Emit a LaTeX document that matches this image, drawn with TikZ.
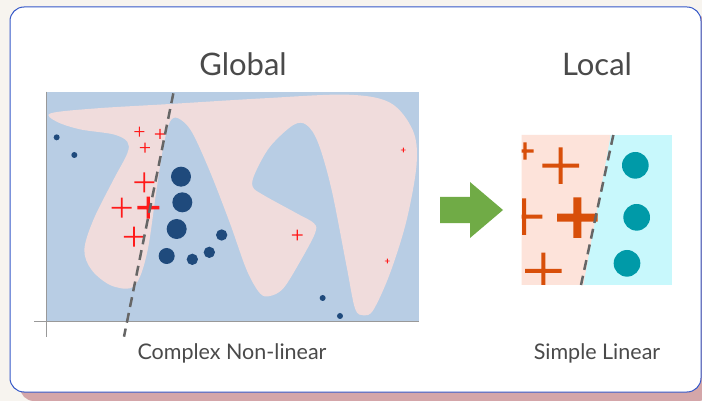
\documentclass[tikz,border=0pt]{standalone}
\usepackage{fontspec}
\setmainfont{Lato}
\definecolor{bgc}{HTML}{F7F4EF}
\definecolor{shadowc}{HTML}{D4A6A9}
\definecolor{borderc}{HTML}{3558C8}
\definecolor{plotblue}{HTML}{B8CDE4}
\definecolor{blobpink}{HTML}{F0DCDC}
\definecolor{dotblue}{HTML}{1F4A7C}
\definecolor{plusred}{RGB}{255,26,26}
\definecolor{dashgray}{HTML}{666666}
\definecolor{txtgray}{HTML}{4A4A4A}
\definecolor{arrowgreen}{HTML}{70AB46}
\definecolor{locpink}{HTML}{FDE3DA}
\definecolor{loccyan}{HTML}{C8F8FC}
\definecolor{orangec}{HTML}{D84F0A}
\definecolor{tealc}{HTML}{009AA8}
\tikzset{
  title/.style={font=\fontsize{31}{33}\selectfont, text=txtgray, inner sep=0pt},
  caption/.style={font=\fontsize{21.5}{23}\selectfont, text=txtgray, inner sep=0pt},
  sepline/.style={draw=dashgray, line width=2.5pt, dash pattern=on 10pt off 6pt},
  axisline/.style={draw=gray!80, line width=1pt},
}
% color, x, y, half length, half thickness
\newcommand\plusfill[5]{%
  \fill[#1] (#2-#4,#3-#5) rectangle (#2+#4,#3+#5) (#2-#5,#3-#4) rectangle (#2+#5,#3+#4);}
\begin{document}
\begin{tikzpicture}[x=1pt,y=-1pt]
\useasboundingbox (0,0) rectangle (702,401);
\fill[bgc] (0,0) rectangle (702,401);
% shadow and card
\fill[shadowc, rounded corners=14pt] (20,16) rectangle (712,401);
\filldraw[fill=white, draw=borderc, line width=1pt, rounded corners=14pt] (10,7) rectangle (701,392);

% titles
\node[title] (global) at (243,64) {Global};
\node[title] (local) at (597,64) {Local};

% global plot
\begin{scope}[shift={(30,80)}, scale=1/3]
  \fill[plotblue] (50,35) rectangle (1168,725);
  \fill[blobpink] plot[smooth cycle, tension=0.55] coordinates {
    (62,100) (200,85) (420,72) (700,55) (950,44) (1080,68) (1148,150) (1160,250)
    (1130,420) (1080,580) (1030,690) (1000,706) (975,685) (950,560) (905,330)
    (865,190) (830,135) (790,135) (720,200) (675,280) (668,320) (700,345)
    (800,400) (852,430) (855,460) (810,545) (760,625) (720,648) (690,640)
    (650,570) (600,430) (540,275) (485,155) (445,115) (420,125) (400,200)
    (378,340) (355,500) (330,590) (300,625) (240,615) (185,570) (163,510)
    (190,420) (250,300) (292,220) (292,185) (250,163) (150,148) (80,125)};
  % axes
  \draw[axisline] (12,725) -- (1168,725);
  \draw[axisline] (50,35) -- (50,770);
  % dots
  \fill[dotblue] (80,172) circle (9) (133,225) circle (9)
    (453,290) circle (30) (457,367) circle (30) (440,447) circle (30)
    (410,528) circle (24) (487,538) circle (17) (538,517) circle (17)
    (575,465) circle (17) (878,654) circle (9) (930,708) circle (9);
  % crosses
  \plusfill{plusred}{328}{155}{15}{1.7}
  \plusfill{plusred}{390}{162}{15}{1.7}
  \plusfill{plusred}{345}{203}{15}{1.7}
  \plusfill{plusred}{343}{307}{30}{2.6}
  \plusfill{plusred}{275}{383}{30}{2.6}
  \plusfill{plusred}{355}{383}{33}{5}
  \plusfill{plusred}{312}{470}{30}{2.6}
  \plusfill{plusred}{802}{465}{16}{1.8}
  \plusfill{plusred}{1120}{210}{7}{1.3}
  \plusfill{plusred}{1072}{543}{7}{1.3}
  % separating line
  \coordinate (gtop) at (430,40);
  \coordinate (gbot) at (282,770);
\end{scope}
\draw[sepline] (gtop) -- (gbot);

% arrow
\fill[arrowgreen] (440,197) -- (470,197) -- (470,182) -- (503,210) -- (470,238) -- (470,223) -- (440,223) -- cycle;

% local plot
\begin{scope}[shift={(500,120)}, scale=1/3]
  \fill[loccyan] (65,45) rectangle (517,495);
  \fill[locpink] (65,45) -- (332,45) -- (250,495) -- (65,495) -- cycle;
  \begin{scope}
    \clip (65,45) rectangle (517,495);
    \plusfill{orangec}{75}{93}{26}{5}
    \plusfill{orangec}{182}{137}{55}{6}
    \plusfill{orangec}{72}{290}{55}{6}
    \plusfill{orangec}{232}{293}{61}{12}
    \plusfill{orangec}{130}{453}{55}{6}
  \end{scope}
  \fill[tealc] (406,136) circle (40) (410,292) circle (40) (381,430) circle (40);
  \coordinate (ltop) at (340,45);
  \coordinate (lbot) at (243,495);
\end{scope}
\draw[sepline] (ltop) -- (lbot);

% captions
\node[caption] (cnl) at (232,353) {Complex Non-linear};
\node[caption] (sl) at (597,353) {Simple Linear};
\end{tikzpicture}
\end{document}
